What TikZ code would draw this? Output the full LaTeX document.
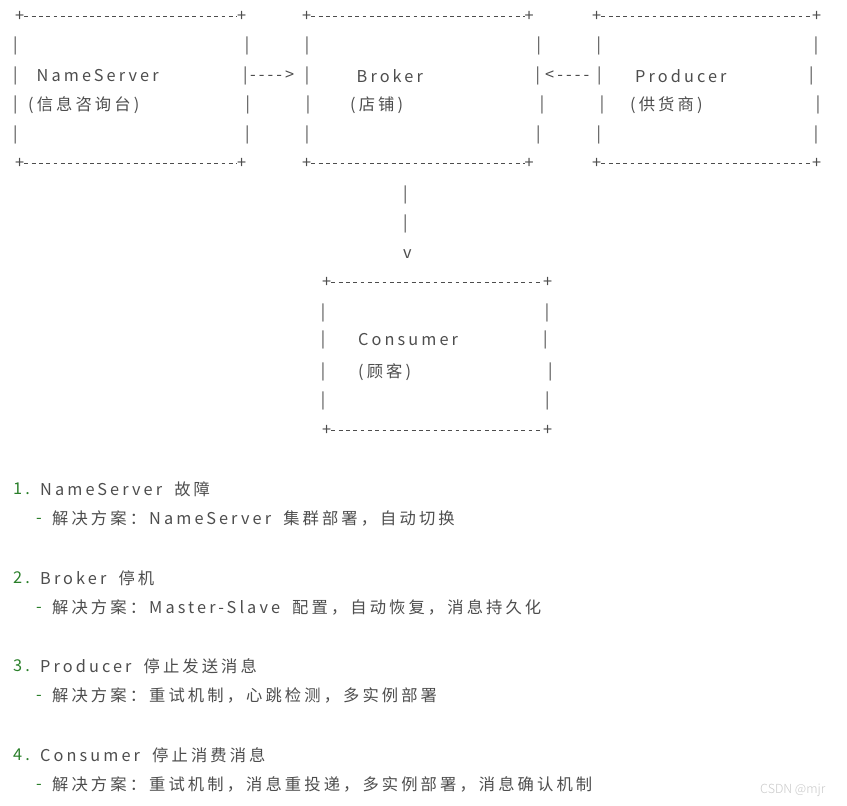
\documentclass[tikz,border=0pt]{standalone}
\usepackage{fontspec}
\usepackage{xcolor}
\usetikzlibrary{positioning}
\newfontfamily\cjk[LetterSpace=19,WordSpace=1.8]{Noto Sans CJK SC}
\newfontfamily\cjkplain{Noto Sans CJK SC Light}
\definecolor{ink}{HTML}{4D4D4D}
\definecolor{numgreen}{HTML}{2A7F2A}
\definecolor{mark}{HTML}{C8C8C8}

\begin{document}
\begin{tikzpicture}[x=1pt, y=-1pt,
  txt/.style={inner sep=0pt, anchor=west, text=ink, font=\cjk\fontsize{16.3}{19}\selectfont},
  num/.style={txt, text=numgreen},
  plus/.style={txt, xshift=-4pt},
  bar/.style={txt, xshift=-2pt},
  border/.style={draw=ink, line width=1pt, dash pattern=on 3.8pt off 3.5pt}]
  \useasboundingbox (0,0) rectangle (847,806);

  % NameServer box
  \node[plus] (nstl) at (19,16) {+};
  \node[plus] (nstr) at (241,16) {+};
  \node[plus] (nsbl) at (19,163) {+};
  \node[plus] (nsbr) at (241,163) {+};
  \draw[border] (nstl) -- (nstr);
  \draw[border] (nsbl) -- (nsbr);
  \foreach \y/\x [count=\i] in {46/246.7, 76/245, 105/247.5, 135/247} {
    \node[bar] (nsl\i) at (15,\y) {|};
    \node[bar] (nsr\i) at (\x,\y) {|};
  }
  \node[txt] (nsname) at (36.5,76) {NameServer};
  \node[txt] (nsnote) at (28,105) {(信息咨询台)};
  \node[txt] (toBroker) at (250,76) {---{}->};

  % Broker box
  \node[plus] (brtl) at (306,16) {+};
  \node[plus] (brtr) at (528.5,16) {+};
  \node[plus] (brbl) at (306,163) {+};
  \node[plus] (brbr) at (528.5,163) {+};
  \draw[border] (brtl) -- (brtr);
  \draw[border] (brbl) -- (brbr);
  \foreach \y/\xl/\xr [count=\i] in {46/306.7/538.3, 76/306.7/537.3, 105/307.7/541.7, 135/306.7/538} {
    \node[bar] (brl\i) at (\xl,\y) {|};
    \node[bar] (brr\i) at (\xr,\y) {|};
  }
  \node[txt] (brname) at (356.5,76) {Broker};
  \node[txt] (brnote) at (350,105) {(店铺)};
  \node[txt] (fromProducer) at (545,76) {<---{}-};

  % Producer box
  \node[plus] (prtl) at (596,16) {+};
  \node[plus] (prtr) at (816,16) {+};
  \node[plus] (prbl) at (596,163) {+};
  \node[plus] (prbr) at (816,163) {+};
  \draw[border] (prtl) -- (prtr);
  \draw[border] (prbl) -- (prbr);
  \foreach \y/\xl/\xr [count=\i] in {46/598.3/815.7, 76/599/811, 105/601.7/817.7, 135/598.3/815.7} {
    \node[bar] (prl\i) at (\xl,\y) {|};
    \node[bar] (prr\i) at (\xr,\y) {|};
  }
  \node[txt] (prname) at (635,76) {Producer};
  \node[txt] (prnote) at (630,105) {(供货商)};

  % Broker -> Consumer
  \node[bar] (down1) at (405,195) {|};
  \node[bar] (down2) at (405,223.5) {|};
  \node[txt, xshift=-4pt] (downtip) at (407,254) {v};

  % Consumer box
  \node[plus] (cotl) at (326,282.5) {+};
  \node[plus] (cotr) at (547,282.5) {+};
  \node[plus] (cobl) at (326,430) {+};
  \node[plus] (cobr) at (547,430) {+};
  \draw[border] (cotl) -- (cotr);
  \draw[border] (cobl) -- (cobr);
  \foreach \y/\x [count=\i] in {313/546.7, 340/545, 372/550, 401/547} {
    \node[bar] (col\i) at (322.7,\y) {|};
    \node[bar] (cor\i) at (\x,\y) {|};
  }
  \node[txt] (coname) at (358,340) {Consumer};
  \node[txt] (conote) at (358,372) {(顾客)};

  % failure list
  \foreach \n/\y/\head/\fix in {
    1/489/NameServer 故障/解决方案：NameServer 集群部署，自动切换,
    2/578/Broker 停机/解决方案：Master-Slave 配置，自动恢复，消息持久化,
    3/666/Producer 停止发送消息/解决方案：重试机制，心跳检测，多实例部署,
    4/755/Consumer 停止消费消息/解决方案：重试机制，消息重投递，多实例部署，消息确认机制} {
    \node[num] (n\n) at (13,\y) {\n.};
    \node[txt] (head\n) at (40,\y) {\head};
    \node[num] (dash\n) at (36,\y+31.5) {-};
    \node[txt] (fix\n) at (52,\y+29.5) {\fix};
  }

  \node[inner sep=0pt, anchor=west, text=mark, font=\cjkplain\fontsize{12.5}{15}\selectfont] (wm) at (760,790) {CSDN @mjr};
\end{tikzpicture}
\end{document}
